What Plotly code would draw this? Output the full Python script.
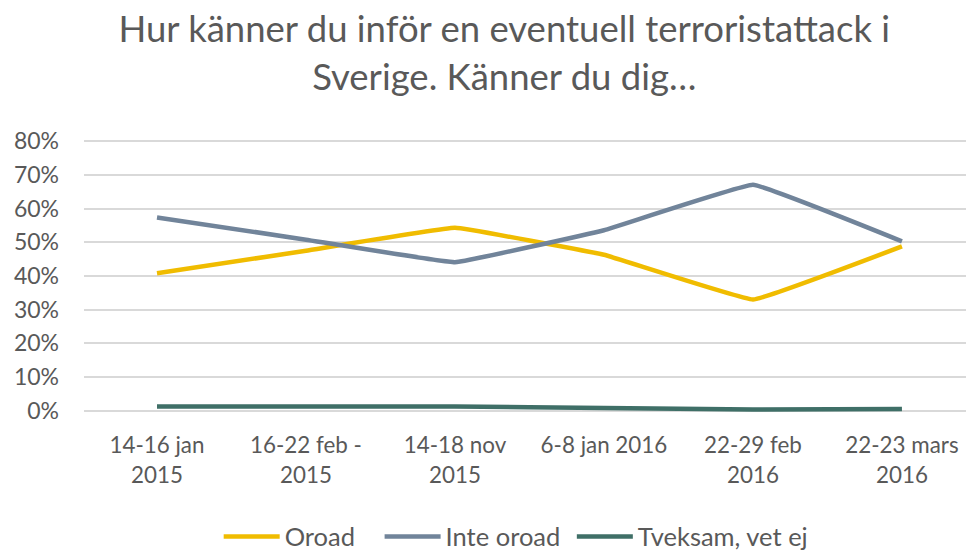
import plotly.graph_objects as go

categories = ["14-16 jan<br>2015", "16-22 feb -<br>2015", "14-18 nov<br>2015",
              "6-8 jan 2016", "22-29 feb<br>2016", "22-23 mars<br>2016"]
oroad = [0.408, 0.475, 0.543, 0.463, 0.330, 0.488]
inte_oroad = [0.574, 0.508, 0.441, 0.536, 0.671, 0.503]
tveksam = [0.012, 0.012, 0.012, 0.008, 0.003, 0.005]
y_ticks = [0, 0.1, 0.2, 0.3, 0.4, 0.5, 0.6, 0.7, 0.8]

FONT = "Lato"
GREY = "#595959"

fig = go.Figure()
series = [("Oroad\u00a0\u00a0\u00a0", oroad, "#F0BC00"),
          ("Inte oroad\u00a0", inte_oroad, "#71849A"),
          ("Tveksam, vet ej", tveksam, "#3F6F67")]
for name, vals, col in series:
    fig.add_trace(go.Scatter(
        x=list(range(len(categories))), y=vals, name=name, mode="lines",
        line=dict(color=col, width=4.5, shape="spline", smoothing=0.2),
    ))

fig.update_layout(
    width=966, height=550,
    margin=dict(l=84, r=0, t=138, b=136, autoexpand=False),
    paper_bgcolor="white", plot_bgcolor="white",
    font=dict(family=FONT, color=GREY, size=22),
    title=dict(text="Hur känner du inför en eventuell terroristattack i<br>Sverige. Känner du dig…",
               x=0.522, xanchor="center", y=0.923, yanchor="top",
               font=dict(size=36.5, color=GREY, family=FONT)),
    showlegend=True,
    legend=dict(orientation="h", x=0.49, xanchor="center", y=-0.36, yanchor="top",
                font=dict(size=25.5, color=GREY, family=FONT), itemwidth=56,
                tracegroupgap=0),
    xaxis=dict(range=[-0.49, 5.43], tickmode="array", automargin=False,
               tickvals=list(range(len(categories))), ticktext=categories,
               showgrid=False, zeroline=False, showline=False, ticks="",
               ticklabelstandoff=16,
               tickfont=dict(size=22.4, color=GREY)),
    yaxis=dict(range=[-0.01, 0.81], tickmode="array", tickvals=y_ticks, automargin=False,
               tickformat=".0%", showgrid=True, gridcolor="#D9D9D9", gridwidth=1.5,
               zeroline=False, showline=False, ticks="",
               ticklabelstandoff=24, tickfont=dict(size=23, color=GREY)),
)

fig.write_html("out.html", config={"displayModeBar": False},
               post_script="document.body.style.margin='0';document.body.style.overflow='hidden';")
